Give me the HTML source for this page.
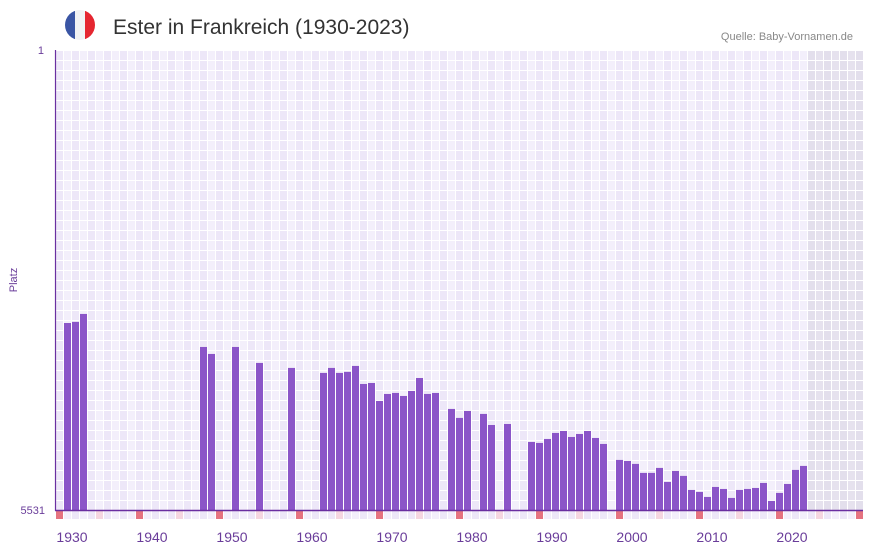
<!DOCTYPE html>
<html><head><meta charset="utf-8"><style>
body{margin:0;background:#fff;}
svg{display:block;font-family:"Liberation Sans",sans-serif;}
</style></head><body>
<svg id="c" width="873" height="552">
<g>
<clipPath id="fc"><circle cx="80" cy="25" r="15"/></clipPath>
<g clip-path="url(#fc)"><rect x="65" y="10" width="10" height="30" fill="#3a55a4"/><rect x="75" y="10" width="10" height="30" fill="#f1f2f4"/><rect x="85" y="10" width="10" height="30" fill="#e52630"/></g>
</g>
<text x="113" y="34" font-size="21" fill="#333">Ester in Frankreich (1930-2023)</text>
<text x="853" y="40" font-size="11" fill="#888" text-anchor="end">Quelle: Baby-Vornamen.de</text>
<text x="17" y="280" font-size="11" fill="#6a3d9a" text-anchor="middle" transform="rotate(-90 17 280)">Platz</text>
<text x="44" y="54" font-size="11" fill="#6a3d9a" text-anchor="end">1</text>
<text x="45" y="514" font-size="11" fill="#6a3d9a" text-anchor="end">5531</text>
<g id="grid"></g>
<g id="bars"></g>
<g id="strip"></g>
<g id="xt"></g>
<line x1="55.5" y1="50" x2="55.5" y2="511" stroke="#6a2fa0" stroke-width="1.2"/>
<line x1="55" y1="510.5" x2="863" y2="510.5" stroke="#6a2fa0" stroke-width="1.5"/>
</svg>
<script>
const years=[1930,1931,1932,1947,1948,1951,1954,1958,1962,1963,1964,1965,1966,1967,1968,1969,1970,1971,1972,1973,1974,1975,1976,1978,1979,1980,1982,1983,1985,1988,1989,1990,1991,1992,1993,1994,1995,1996,1997,1999,2000,2001,2002,2003,2004,2005,2006,2007,2008,2009,2010,2011,2012,2013,2014,2015,2016,2017,2018,2019,2020,2021,2022];
const ranks=[3283,3270,3174,3571,3655,3571,3763,3823,3883,3823,3883,3871,3799,4016,4004,4220,4136,4124,4160,4100,3944,4136,4124,4316,4424,4340,4376,4509,4497,4713,4725,4677,4605,4581,4653,4617,4581,4665,4737,4929,4941,4977,5085,5085,5025,5194,5061,5121,5290,5314,5374,5254,5278,5386,5290,5278,5266,5206,5422,5326,5218,5049,5001];
const tickYears=[1930,1940,1950,1960,1970,1980,1990,2000,2010,2020];
const NS="http://www.w3.org/2000/svg";
const X0=56,CW=8,Y0=50,Y1=510,RMAX=5531,FIRST=1929,LAST=2029,DATA_END=2022;
const xs=y=>X0+(y-FIRST)*CW;
const ys=r=>Y0+(r-1)/(RMAX-1)*(Y1-Y0);
function mk(t,a){const e=document.createElementNS(NS,t);for(const k in a)e.setAttribute(k,a[k]);return e;}
const grid=document.getElementById('grid');
for(let y=FIRST;y<=LAST;y++){
  const gray=y>DATA_END;
  for(let r=0;r<46;r++){
    const c=gray?(y%2?'#e3dfec':'#e6e2ee'):(y%2?'#ede7f8':'#f3effb');
    const e=mk('rect',{x:xs(y),y:Y1-(r+1)*10+1,width:7,height:9,fill:c});
    
    
    grid.appendChild(e);
  }
}
const bars=document.getElementById('bars');
years.forEach((y,i)=>{
  const t=ys(ranks[i]);
  const e=mk('rect',{x:xs(y),y:t,width:7,height:Y1-t,fill:'#8b55c8'});
  
  
  bars.appendChild(e);
});
const strip=document.getElementById('strip');
for(let y=FIRST;y<=LAST;y++){
  const c=y%10===9?'#e57380':(y%10===4?'#f5d6e0':(y%2?'#ede7f8':'#f3effb'));
  const e=mk('rect',{x:xs(y),y:511,width:7,height:8,fill:c});
  
  
  strip.appendChild(e);
}
const xt=document.getElementById('xt');
tickYears.forEach(y=>{
  const e=mk('text',{x:xs(y)+8,y:542,'font-size':14,fill:'#6a3d9a','text-anchor':'middle'});
  e.textContent=y;
  
  
  xt.appendChild(e);
});
</script>
</body></html>
